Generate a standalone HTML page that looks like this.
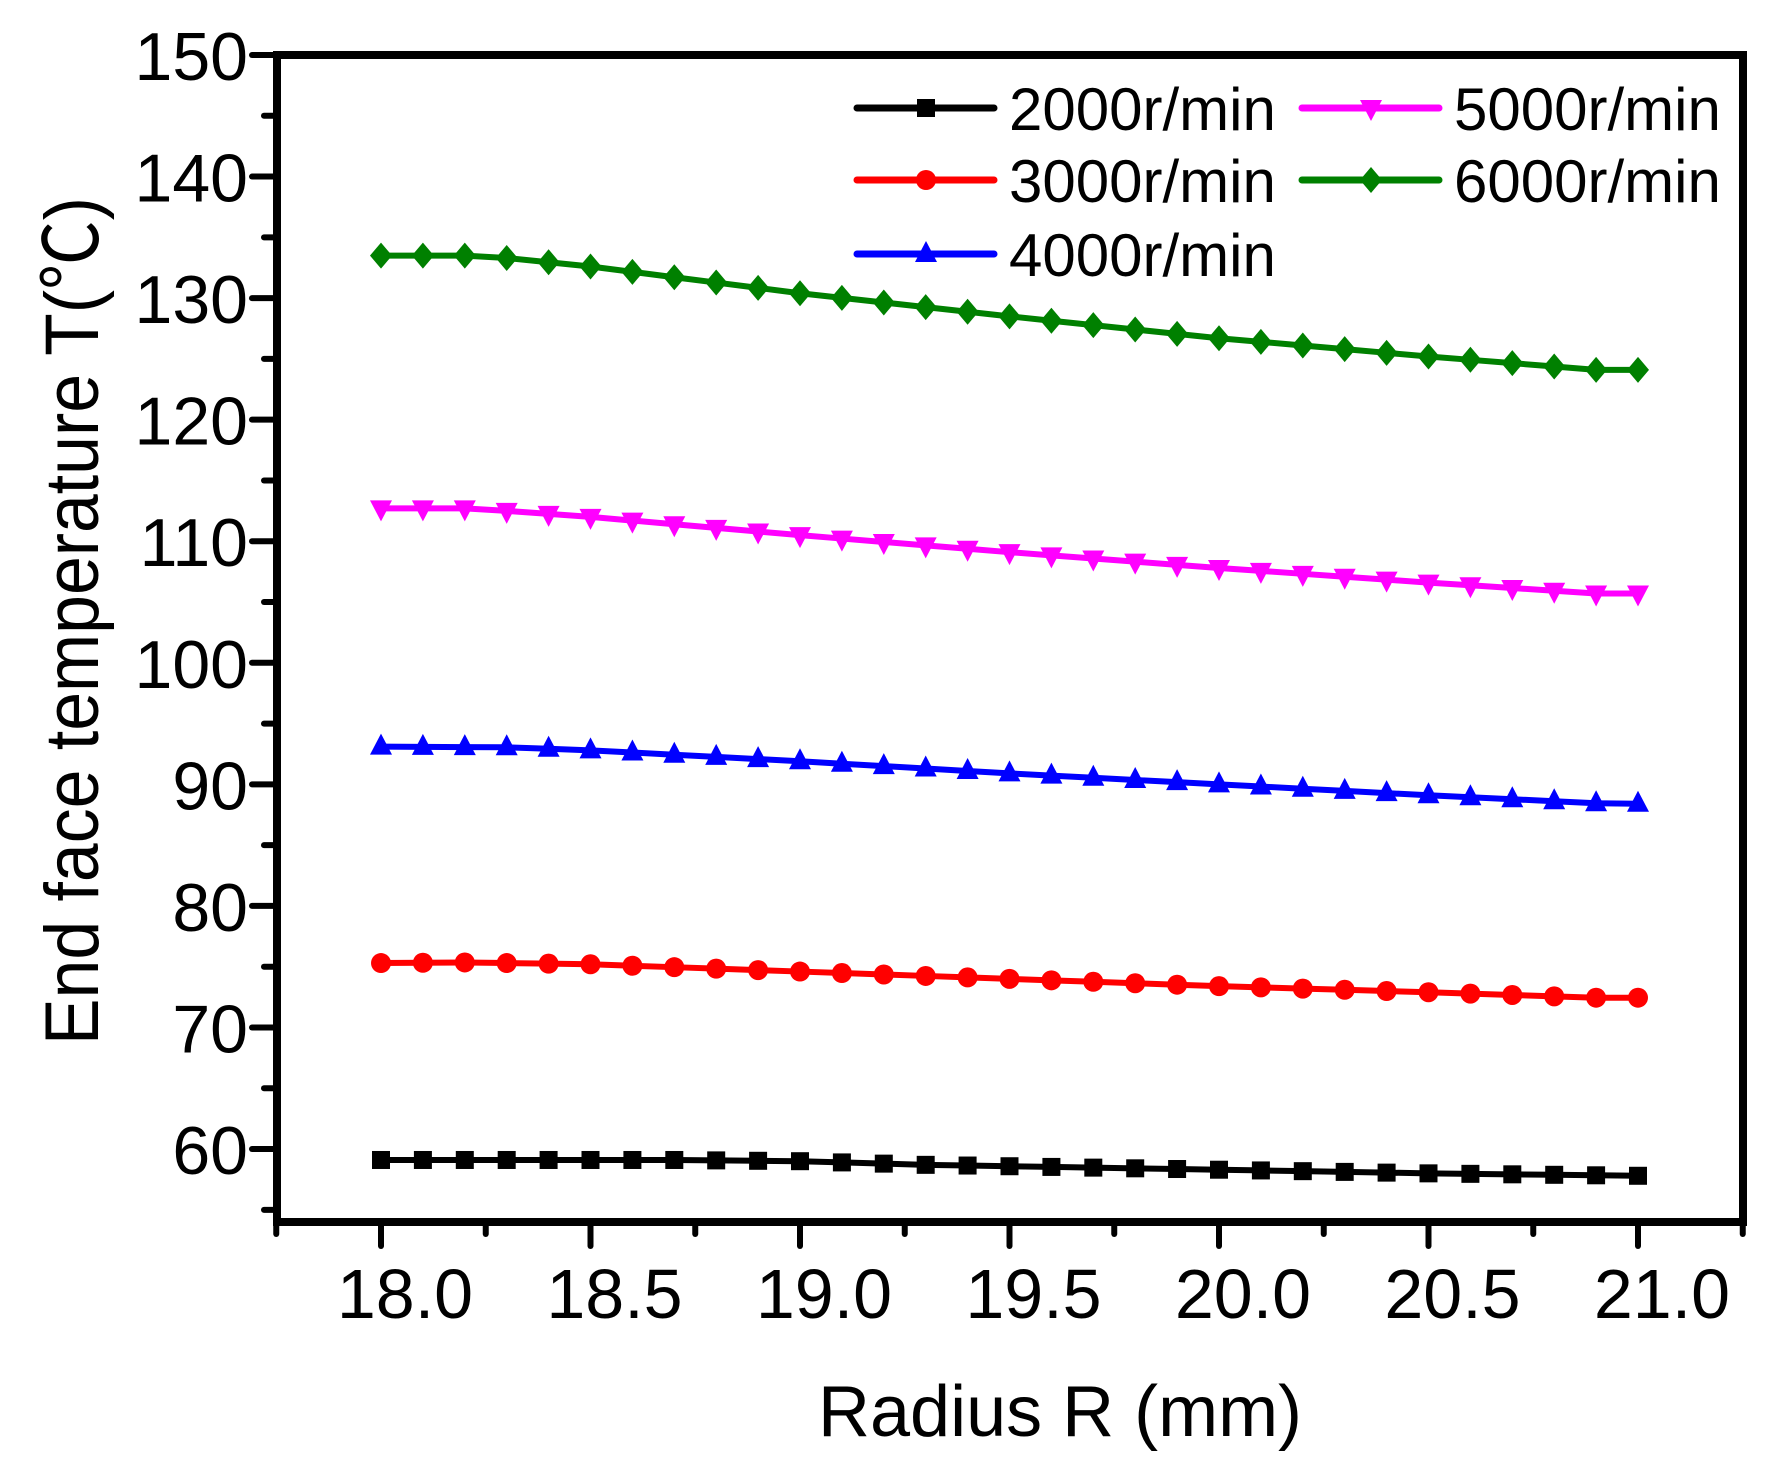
<!DOCTYPE html>
<html><head><meta charset="utf-8"><style>
html,body{margin:0;padding:0;background:#fff;}
svg{display:block;}
text{font-family:"Liberation Sans","DejaVu Sans",sans-serif;fill:#000;}
</style></head><body>
<svg id="s" width="1782" height="1479" viewBox="0 0 1782 1479" xmlns="http://www.w3.org/2000/svg">
<rect width="1782" height="1479" fill="#fff"/>
<g id="plot"></g>
<rect x="277" y="55" width="1466" height="1167" fill="none" stroke="#000" stroke-width="8"/>
<g id="ticks" stroke="#000" stroke-width="6" stroke-linecap="round"></g>
<g id="labels" font-size="68"></g>
<text x="1060" y="1436" font-size="72" text-anchor="middle">Radius R (mm)</text>
<text transform="translate(98,621) rotate(-90)" font-size="76" text-anchor="middle" textLength="848" lengthAdjust="spacingAndGlyphs">End face temperature T(<tspan font-family="'Noto Sans CJK SC',sans-serif">℃</tspan>)</text>
<g id="legend"></g>
</svg>
<script>
var NS="http://www.w3.org/2000/svg";
function el(p,t,a){var e=document.createElementNS(NS,t);for(var k in a)e.setAttribute(k,a[k]);p.appendChild(e);return e;}
function X(v){return 381+(v-18)*419;}
function Y(v){return 55+(150-v)*12.156;}
var ticks=document.getElementById('ticks'),labels=document.getElementById('labels');
for(var v=55;v<=150;v+=5){var y=Y(v),maj=v%10==0;
 el(ticks,'line',{x1:277,y1:y,x2:maj?252:264,y2:y});
 if(maj){var t=el(labels,'text',{x:248,y:y+25,'text-anchor':'end'});t.textContent=v;}}
for(var i=0;i<=14;i++){var v=17.75+i*0.25,x=X(v),maj=(i%2==1);
 el(ticks,'line',{x1:x,y1:1222,x2:x,y2:maj?1246:1234});
 if(maj){var t=el(labels,'text',{x:x+24,y:1318,'text-anchor':'middle','font-size':70});t.textContent=v.toFixed(1);}}
function interp(a){var out=[];for(var i=0;i<=30;i++){var x=18+i*0.1;for(var j=0;j<a.length-1;j++){if(x>=a[j][0]-1e-9&&x<=a[j+1][0]+1e-9){var f=(x-a[j][0])/(a[j+1][0]-a[j][0]);out.push([x,a[j][1]+f*(a[j+1][1]-a[j][1])]);break;}}}return out;}
var series=[
 {c:'#000',m:'sq',d:interp([[18,59.1],[18.7,59.1],[19.0,59.0],[19.3,58.7],[20.0,58.3],[20.5,58.0],[21,57.8]])},
 {c:'#ff0000',m:'ci',d:interp([[18,75.3],[18.2,75.35],[18.5,75.2],[19.0,74.6],[19.5,74.0],[20.0,73.4],[20.5,72.9],[20.9,72.45],[21,72.45]])},
 {c:'#0000ff',m:'up',d:interp([[18,93.1],[18.3,93.05],[18.5,92.8],[19.0,91.9],[19.5,90.9],[20.0,90.0],[20.5,89.1],[20.9,88.45],[21,88.4]])},
 {c:'#ff00ff',m:'dn',d:interp([[18,112.7],[18.2,112.7],[18.3,112.5],[18.5,112.0],[19.0,110.5],[19.5,109.1],[20.0,107.8],[20.5,106.6],[20.9,105.7],[21,105.7]])},
 {c:'#008000',m:'di',d:interp([[18,133.5],[18.2,133.5],[18.3,133.3],[18.5,132.6],[19.0,130.4],[19.5,128.5],[20.0,126.7],[20.5,125.2],[20.9,124.1],[21,124.1]])}
];
function marker(g,m,x,y,c){
 if(m=='sq')el(g,'rect',{x:x-9,y:y-9,width:18,height:18,fill:c});
 else if(m=='ci')el(g,'circle',{cx:x,cy:y,r:10,fill:c});
 else if(m=='up')el(g,'polygon',{points:(x)+','+(y-13)+' '+(x+11)+','+(y+8)+' '+(x-11)+','+(y+8),fill:c});
 else if(m=='dn')el(g,'polygon',{points:(x)+','+(y+13)+' '+(x+11)+','+(y-8)+' '+(x-11)+','+(y-8),fill:c});
 else el(g,'polygon',{points:x+','+(y-13)+' '+(x+11)+','+y+' '+x+','+(y+13)+' '+(x-11)+','+y,fill:c});
}
var plot=document.getElementById('plot');
series.forEach(function(s){
 el(plot,'polyline',{points:s.d.map(function(p){return X(p[0])+','+Y(p[1]);}).join(' '),fill:'none',stroke:s.c,'stroke-width':6,'stroke-linejoin':'round'});
 s.d.forEach(function(p){marker(plot,s.m,X(p[0]),Y(p[1]),s.c);});
});
var lg=document.getElementById('legend');
var L=[[0,857,108,'2000r/min'],[1,857,180,'3000r/min'],[2,857,254,'4000r/min'],[3,1302,108,'5000r/min'],[4,1302,180,'6000r/min']];
L.forEach(function(l){var s=series[l[0]];
 el(lg,'line',{x1:l[1],y1:l[2],x2:l[1]+137,y2:l[2],stroke:s.c,'stroke-width':7,'stroke-linecap':'round'});
 marker(lg,s.m,l[1]+69,l[2],s.c);
 var t=el(lg,'text',{x:l[1]+152,y:l[2]+22,'font-size':60});t.textContent=l[3];});
</script>
</body></html>
